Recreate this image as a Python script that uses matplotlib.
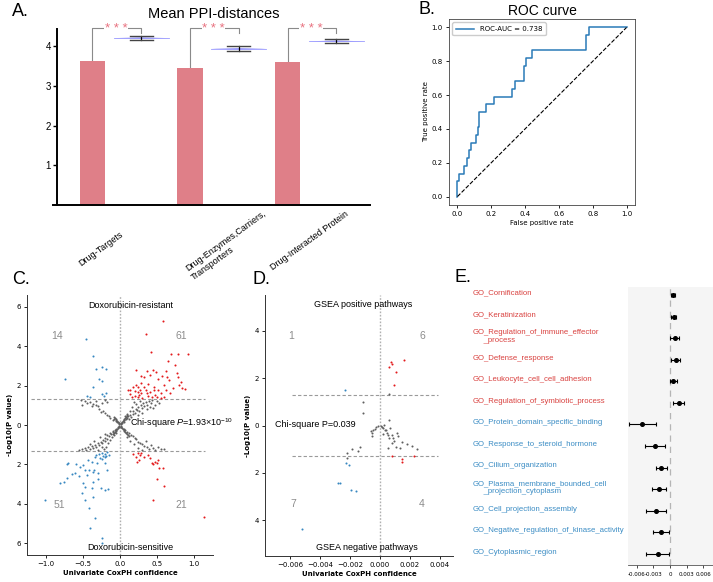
import numpy as np
import matplotlib
matplotlib.use('Agg')
import matplotlib.pyplot as plt
from matplotlib.ticker import FuncFormatter
from matplotlib.transforms import blended_transform_factory

plt.rcParams['font.family'] = ['DejaVu Sans']
plt.rcParams['mathtext.fontset'] = 'custom'
plt.rcParams['mathtext.rm'] = 'Liberation Sans'
plt.rcParams['mathtext.it'] = 'Liberation Sans:italic'
ARIAL = 'Liberation Sans'

# ---------------- data ----------------
# Panel A
a_categories = ['Drug-Targets', 'Drug-Enzymes,Carriers,\nTransporters', 'Drug-Interacted Protein']
a_observed = [3.63, 3.44, 3.59]
a_random_mean = [4.20, 3.93, 4.12]
a_random_lo = [4.15, 3.88, 4.07]
a_random_hi = [4.25, 3.99, 4.17]
a_sig = ['* * *', '* * *', '* * *']

# Panel B (ROC curve corners)
b_fpr = [0.0, 0.0, 0.012, 0.012, 0.04, 0.04, 0.055, 0.055, 0.07, 0.07, 0.083, 0.083,
         0.11, 0.11, 0.12, 0.12, 0.127, 0.127, 0.17, 0.17, 0.216, 0.216, 0.32, 0.32,
         0.34, 0.34, 0.395, 0.395, 0.405, 0.405, 0.44, 0.44, 0.762, 0.762, 0.78, 0.78, 1.0]
b_tpr = [0.0, 0.091, 0.091, 0.136, 0.136, 0.182, 0.182, 0.227, 0.227, 0.273, 0.273, 0.318,
         0.318, 0.364, 0.364, 0.409, 0.409, 0.5, 0.5, 0.545, 0.545, 0.591, 0.591, 0.636,
         0.636, 0.682, 0.682, 0.773, 0.773, 0.818, 0.818, 0.864, 0.864, 0.955, 0.955, 1.0, 1.0]
b_auc = 0.738

# Panel C (x = CoxPH confidence, y = signed -log10 P)
c_red_up = [(0.577, 5.28), (0.347, 4.6), (0.42, 3.72), (0.685, 3.59), (0.79, 3.59), (0.915, 3.59),
            (0.65, 3.25), (0.74, 3.05), (0.21, 2.79), (0.37, 2.74), (0.45, 2.79), (0.49, 2.71),
            (0.62, 2.74), (0.77, 2.62), (0.28, 2.5), (0.33, 2.43), (0.41, 2.55), (0.51, 2.33),
            (0.57, 2.5), (0.64, 2.43), (0.66, 2.3), (0.79, 2.43), (0.82, 2.2), (0.14, 1.8),
            (0.18, 1.95), (0.21, 2.02), (0.25, 1.95), (0.29, 2.11), (0.32, 1.95), (0.38, 2.06),
            (0.46, 1.95), (0.59, 2.02), (0.80, 2.02), (0.84, 1.9), (0.11, 1.78), (0.2, 1.75),
            (0.24, 1.68), (0.27, 1.78), (0.29, 1.6), (0.35, 1.78), (0.41, 1.68), (0.46, 1.78),
            (0.52, 1.78), (0.56, 1.6), (0.6, 1.44), (0.62, 1.78), (0.2, 1.48), (0.24, 1.42),
            (0.38, 1.48), (0.47, 1.52), (0.5, 1.42), (0.14, 1.55), (0.72, 1.9), (0.68, 1.62),
            (0.3, 1.38), (0.43, 1.4), (0.55, 1.35), (0.16, 1.4), (0.26, 1.52), (0.36, 1.62),
            (0.88, 1.85)]
c_red_down = [(0.18, -1.45), (0.21, -1.62), (0.23, -1.86), (0.24, -1.4), (0.26, -1.78),
              (0.27, -1.5), (0.29, -1.44), (0.33, -1.6), (0.38, -1.52), (0.43, -1.92),
              (0.45, -1.97), (0.47, -1.86), (0.5, -1.91), (0.52, -1.78), (0.53, -2.19),
              (0.58, -2.17), (0.5, -2.76), (0.59, -3.08), (0.45, -3.81), (1.14, -4.65),
              (0.4, -1.7)]
c_blue_up = [(-0.46, 4.35), (-0.365, 3.5), (-0.325, 2.86), (-0.24, 2.96), (-0.19, 2.86),
             (-0.28, 2.35), (-0.24, 2.25), (-0.75, 2.32), (-0.37, 1.91), (-0.25, 1.57),
             (-0.19, 1.6), (-0.45, 1.47), (-0.405, 1.4), (-0.22, 1.45)]
c_blue_down = [(-0.248, -1.44), (-0.203, -1.49), (-0.172, -1.39), (-0.226, -1.57), (-0.27, -1.66),
               (-0.338, -1.61), (-0.306, -1.95), (-0.203, -1.95), (-0.18, -2.28), (-0.428, -1.78),
               (-0.383, -1.86), (-0.495, -2.03), (-0.54, -2.12), (-0.473, -2.28), (-0.36, -2.37),
               (-0.293, -2.45), (-0.608, -2.45), (-0.698, -1.91), (-0.72, -1.98), (-0.765, -2.88),
               (-0.495, -2.96), (-0.473, -3.13), (-0.36, -2.88), (-0.383, -3.22), (-0.257, -3.22),
               (-0.203, -3.3), (-0.158, -3.27), (-0.518, -3.47), (-0.36, -3.67), (-0.473, -3.81),
               (-1.01, -3.81), (-0.414, -4.23), (-0.338, -4.74), (-0.405, -5.25), (-0.248, -5.75),
               (-0.24, -6.0), (-0.81, -2.95), (-0.65, -2.5), (-0.55, -2.6), (-0.6, -2.0),
               (-0.72, -2.7), (-0.35, -2.3), (-0.3, -2.75), (-0.25, -1.75), (-0.28, -1.45),
               (-0.15, -1.5), (-0.2, -1.62), (-0.32, -1.5), (-0.42, -2.3), (-0.45, -2.55),
               (-0.19, -1.55)]
c_gray = [
    # main band, upper right
    (0.03, 0.1), (0.05, 0.15), (0.06, 0.25), (0.08, 0.3), (0.1, 0.35), (0.12, 0.3), (0.11, 0.45),
    (0.14, 0.5), (0.15, 0.4), (0.17, 0.55), (0.18, 0.7), (0.2, 0.6), (0.21, 0.8), (0.23, 0.75),
    (0.25, 0.9), (0.26, 0.7), (0.28, 1.0), (0.3, 0.85), (0.31, 1.1), (0.33, 0.95), (0.35, 1.15),
    (0.37, 1.0), (0.39, 1.2), (0.42, 1.1), (0.44, 1.25), (0.47, 1.0), (0.5, 1.2), (0.53, 1.1),
    (0.22, 1.05), (0.16, 0.9), (0.13, 0.7), (0.27, 1.2), (0.36, 0.8), (0.4, 0.9), (0.45, 0.85),
    (0.07, 0.45), (0.09, 0.55), (0.19, 1.15), (0.24, 0.5), (0.3, 0.6),
    # main band, lower left
    (-0.03, -0.1), (-0.05, -0.2), (-0.07, -0.25), (-0.09, -0.35), (-0.1, -0.3), (-0.12, -0.45),
    (-0.14, -0.4), (-0.15, -0.55), (-0.17, -0.5), (-0.18, -0.7), (-0.2, -0.65), (-0.21, -0.8),
    (-0.23, -0.75), (-0.25, -0.9), (-0.26, -0.85), (-0.28, -1.0), (-0.3, -0.9), (-0.32, -1.1),
    (-0.34, -1.0), (-0.36, -1.15), (-0.38, -1.05), (-0.4, -1.2), (-0.43, -1.1), (-0.46, -1.25),
    (-0.48, -1.15), (-0.52, -1.2), (-0.55, -1.25), (-0.16, -0.9), (-0.19, -1.1), (-0.22, -1.2),
    (-0.24, -1.1), (-0.11, -0.6), (-0.13, -0.75), (-0.27, -0.6), (-0.35, -0.8), (-0.08, -0.5),
    (-0.41, -0.95), (-0.3, -1.25), (-0.2, -0.45), (-0.06, -0.4),
    # anti-diagonal, upper left
    (-0.02, 0.1), (-0.04, 0.15), (-0.06, 0.2), (-0.08, 0.3), (-0.1, 0.25), (-0.13, 0.35),
    (-0.15, 0.45), (-0.18, 0.5), (-0.2, 0.6), (-0.23, 0.7), (-0.26, 0.65), (-0.28, 0.8),
    (-0.3, 0.95), (-0.33, 1.0), (-0.36, 1.05), (-0.38, 0.95), (-0.41, 1.15), (-0.45, 1.1),
    (-0.48, 1.2), (-0.51, 1.0), (-0.53, 1.25), (-0.25, 1.1), (-0.21, 1.25), (-0.17, 1.15),
    (-0.32, 1.2),
    # anti-diagonal, lower right
    (0.02, -0.1), (0.05, -0.2), (0.07, -0.25), (0.1, -0.35), (0.12, -0.4), (0.15, -0.5),
    (0.17, -0.55), (0.2, -0.65), (0.22, -0.7), (0.24, -0.85), (0.27, -0.9), (0.3, -0.95),
    (0.33, -1.05), (0.36, -1.1), (0.39, -1.2), (0.42, -1.0), (0.45, -1.15), (0.48, -1.25),
    (0.52, -1.1), (0.55, -1.2), (0.6, -1.2), (0.3, -1.25), (0.25, -1.15), (0.19, -0.95),
    (0.14, -0.8), (0.1, -0.6), (0.35, -0.8),
    # dense centre cross
    (0.01, 0.05), (0.02, 0.1), (0.03, 0.15), (0.04, 0.2), (0.05, 0.25), (0.06, 0.3), (0.07, 0.35),
    (0.08, 0.4), (0.09, 0.45), (0.1, 0.5), (-0.01, -0.05), (-0.02, -0.1), (-0.03, -0.15),
    (-0.04, -0.2), (-0.05, -0.25), (-0.06, -0.3), (-0.07, -0.35), (-0.08, -0.4), (-0.09, -0.45),
    (-0.01, 0.05), (-0.02, 0.1), (-0.03, 0.15), (-0.04, 0.2), (-0.05, 0.25), (-0.06, 0.3),
    (-0.07, 0.35), (-0.08, 0.42), (0.01, -0.05), (0.02, -0.1), (0.03, -0.15), (0.04, -0.2),
    (0.05, -0.25), (0.06, -0.3), (0.07, -0.35), (0.08, -0.4), (0.09, -0.45), (0.11, -0.5),
    (0.12, -0.55)]
c_counts = {'UL': '14', 'UR': '61', 'LL': '51', 'LR': '21'}
c_chi = r'Chi-square $\mathit{P}$=1.93×10$^{-10}$'

# Panel D
d_red_up = [(0.00071, 2.66), (0.00062, 2.45), (0.0016, 2.75), (0.0011, 2.24), (0.00093, 1.69),
            (0.0008, 2.58)]
d_red_down = [(0.00078, -1.29), (0.00144, -1.43), (0.00149, -1.53), (0.00227, -1.29)]
d_blue_up = [(-0.00233, 1.51)]
d_blue_down = [(-0.00229, -1.6), (-0.00267, -2.41), (-0.00278, -2.44), (-0.00196, -2.73),
               (-0.0016, -2.76), (-0.00522, -4.37), (-0.0021, -1.65)]
d_gray = [(-0.00116, 0.98), (-0.00116, 0.53), (0.0006, 1.34), (0.0006, 0.25), (0.00007, 0.0),
          (-0.00011, -0.03), (-0.00027, -0.07), (-0.00044, -0.17), (-0.00056, -0.31),
          (-0.00056, -0.45), (-0.00033, -0.14), (0.00022, -0.1), (0.00033, -0.17),
          (0.00044, -0.31), (0.00056, -0.38), (0.0006, -0.52), (0.00078, -0.38), (0.00089, -0.52),
          (0.00111, -0.31), (0.00118, -0.45), (0.00078, -0.73), (0.00144, -0.7), (0.00178, -0.8),
          (0.00211, -0.87), (0.00244, -1.01), (0.00056, -0.94), (0.00107, -0.91),
          (-0.00133, -0.91), (-0.00189, -0.97), (-0.00144, -1.08), (-0.00218, -1.18),
          (-0.00222, -1.36), (0.00016, -0.06), (-0.0006, -0.24), (0.00027, 0.04),
          (0.00067, -0.1), (0.00096, -0.66), (0.00133, -0.94), (0.0004, -0.2), (0.0002, -0.35)]
d_counts = {'UL': '1', 'UR': '6', 'LL': '7', 'LR': '4'}
d_chi = 'Chi-square P=0.039'

# Panel E
e_terms = ['GO_Cornification', 'GO_Keratinization',
           'GO_Regulation_of_immune_effector\n     _process', 'GO_Defense_response',
           'GO_Leukocyte_cell_cell_adhesion', 'GO_Regulation_of_symbiotic_process',
           'GO_Protein_domain_specific_binding', 'GO_Response_to_steroid_hormone',
           'GO_Cilium_organization', 'GO_Plasma_membrane_bounded_cell\n     _projection_cytoplasm',
           'GO_Cell_projection_assembly', 'GO_Negative_regulation_of_kinase_activity',
           'GO_Cytoplasmic_region']
e_coef = [0.0005, 0.00067, 0.0009, 0.0011, 0.00055, 0.0016, -0.0051, -0.0027, -0.0016,
          -0.002, -0.0026, -0.0016, -0.0022]
e_lo = [0.0001, 0.00024, 0.0, 0.00024, 0.0, 0.0006, -0.0075, -0.0045, -0.0026, -0.0032,
        -0.0043, -0.003, -0.0043]
e_hi = [0.0009, 0.0011, 0.0017, 0.0019, 0.0012, 0.0026, -0.0026, -0.00085, -0.0006, -0.0007,
        -0.0008, -0.0002, -0.0001]
e_direction = ['pos'] * 6 + ['neg'] * 7

# ---------------- figure ----------------
W, H = 713, 582
fig = plt.figure(figsize=(W / 100, H / 100), dpi=100)


def add_ax(l, t, r, b):
    return fig.add_axes([l / W, 1 - b / H, (r - l) / W, (b - t) / H])


RED = '#e31a1c'
BLUE = '#3787c0'
GRAY = '#5f5f5f'

# ---------- Panel A ----------
axA = add_ax(57, 29, 370, 205)
xa = np.arange(len(a_categories))
axA.bar(xa, a_observed, width=0.26, color='#df7f88', zorder=2)
for i in range(len(xa)):
    c = xa[i] + 0.5
    m = a_random_mean[i]
    axA.fill([c - 0.28, c, c + 0.28, c], [m, m + 0.02, m, m - 0.02],
             color='#6f6ff5', alpha=0.75, lw=0, zorder=2)
    axA.plot([c - 0.28, c + 0.28], [m, m], color='#9a9aff', lw=0.6, zorder=2)
    axA.plot([c, c], [a_random_lo[i], a_random_hi[i]], color='k', lw=0.9, zorder=3)
    for v in (a_random_lo[i], a_random_hi[i]):
        axA.plot([c - 0.12, c + 0.12], [v, v], color='#444', lw=1.0, zorder=3)
    axA.plot([xa[i], xa[i], c, c], [a_observed[i], 4.45, 4.45, 4.33],
             color='#8a8a8a', lw=0.8, clip_on=False, zorder=1)
    axA.text(xa[i] + 0.24, 4.43, a_sig[i], ha='center', va='center', color='#e8707e',
             fontsize=9.5, family=ARIAL,
             bbox=dict(facecolor='white', edgecolor='none', pad=0.3), zorder=4)
axA.set_xlim(-0.364, 2.846)
axA.set_ylim(0, 4.43)
axA.set_xticks([])
axA.set_yticks([1, 2, 3, 4])
axA.set_yticklabels(['1', '2', '3', '4'], fontsize=7, family=ARIAL)
axA.tick_params(axis='y', length=3, width=1.0, pad=1.5)
for s in ('top', 'right'):
    axA.spines[s].set_visible(False)
axA.spines['left'].set_linewidth(1.4)
axA.spines['bottom'].set_linewidth(1.4)
axA.spines['bottom'].set_bounds(-0.41, 2.846)
axA.set_title('Mean PPI-distances', fontsize=10.5, family=ARIAL, pad=8)
a_label_xy = [(0.28, -0.62), (1.74, -0.10), (2.59, -0.12)]
for (lx, ly), lab in zip(a_label_xy, a_categories):
    axA.text(lx, ly, lab, rotation=36, rotation_mode='anchor', ha='right', va='top',
             multialignment='left', fontsize=6.5, family=ARIAL, clip_on=False)

# ---------- Panel B ----------
axB = add_ax(449, 19, 635, 205)
axB.plot(b_fpr, b_tpr, color='#2a7ab8', lw=1.1, label=f'ROC-AUC = {b_auc:.3f}')
axB.plot([0, 1], [0, 1], 'k--', lw=0.8)
axB.set_xlim(-0.05, 1.05)
axB.set_ylim(-0.05, 1.05)
ticksB = [0.0, 0.2, 0.4, 0.6, 0.8, 1.0]
axB.set_xticks(ticksB)
axB.set_yticks(ticksB)
axB.tick_params(labelsize=5, length=2.5, width=0.6, pad=2)
axB.set_xlabel('False positive rate', fontsize=5, labelpad=2)
axB.set_ylabel('True positive rate', fontsize=5, labelpad=2)
for s in axB.spines.values():
    s.set_linewidth(0.6)
    s.set_color('#444')
axB.legend(loc='upper left', fontsize=5, handlelength=2.6, borderpad=0.5,
           framealpha=1, edgecolor='#ccc', fancybox=True)
axB.set_title('ROC curve', fontsize=10, family=ARIAL, pad=3)


def volcano(ax, gray, red_up, red_down, blue_up, blue_down):
    for pts, col in ((gray, GRAY), (red_up, RED), (red_down, RED),
                     (blue_up, BLUE), (blue_down, BLUE)):
        xs = [p[0] for p in pts]
        ys = [p[1] for p in pts]
        ax.scatter(xs, ys, s=2.2, color=col, lw=0, zorder=3)
    for s in ('top', 'right'):
        ax.spines[s].set_visible(False)
    for s in ('left', 'bottom'):
        ax.spines[s].set_linewidth(0.7)
        ax.spines[s].set_color('#333')
    ax.tick_params(labelsize=5, length=2.5, width=0.6, pad=2)
    ax.yaxis.set_major_formatter(FuncFormatter(lambda v, p: f'{abs(v):.0f}'))
    ax.set_xlabel('Univariate CoxPH confidence', fontsize=5, fontweight='bold', labelpad=2)
    ax.set_ylabel('-Log10(P value)', fontsize=5, fontweight='bold', labelpad=2)


# ---------- Panel C ----------
axC = add_ax(27, 295, 213, 555)
axC.hlines([1.3, -1.3], -1.2, 1.15, colors='#9a9a9a', linestyles=(0, (3, 2)), lw=0.8, zorder=1)
axC.axvline(0, color='#b0b0b0', ls=(0, (1.2, 1.2)), lw=1.0, zorder=1)
volcano(axC, c_gray, c_red_up, c_red_down, c_blue_up, c_blue_down)
axC.set_xlim(-1.26, 1.26)
axC.set_ylim(-6.6, 6.6)
axC.set_xticks([-1.0, -0.5, 0.0, 0.5, 1.0])
axC.set_yticks([-6, -4, -2, 0, 2, 4, 6])
tkw = dict(family=ARIAL, ha='center', va='center')
axC.text(0.15, 6.05, 'Doxorubicin-resistant', fontsize=6.5, **tkw)
axC.text(0.14, -6.22, 'Doxorubicin-sensitive', fontsize=6.5, **tkw)
axC.text(-0.855, 4.5, c_counts['UL'], fontsize=7.5, color='#8c8c8c', **tkw)
axC.text(0.83, 4.5, c_counts['UR'], fontsize=7.5, color='#8c8c8c', **tkw)
axC.text(-0.82, -4.06, c_counts['LL'], fontsize=7.5, color='#8c8c8c', **tkw)
axC.text(0.83, -4.06, c_counts['LR'], fontsize=7.5, color='#8c8c8c', **tkw)
axC.text(0.14, 0.1, c_chi, fontsize=6.5, family=ARIAL, ha='left', va='center', zorder=5)

# ---------- Panel D ----------
axD = add_ax(265, 295, 453, 556)
axD.hlines([1.3, -1.3], -0.0059, 0.0039, colors='#9a9a9a', linestyles=(0, (3, 2)), lw=0.8, zorder=1)
axD.axvline(0, color='#b0b0b0', ls=(0, (1.2, 1.2)), lw=1.0, zorder=1)
volcano(axD, d_gray, d_red_up, d_red_down, d_blue_up, d_blue_down)
axD.set_xlim(-0.00767, 0.00487)
axD.set_ylim(-5.5, 5.5)
axD.set_xticks([-0.006, -0.004, -0.002, 0.0, 0.002, 0.004])
axD.xaxis.set_major_formatter(FuncFormatter(lambda v, p: f'{v:.3f}'.replace('-', '\u2212')))
axD.set_yticks([-4, -2, 0, 2, 4])
axD.text(-0.0011, 5.08, 'GSEA positive pathways', fontsize=6.5, **tkw)
axD.text(-0.0009, -5.14, 'GSEA negative pathways', fontsize=6.5, **tkw)
axD.text(-0.0059, 3.78, d_counts['UL'], fontsize=7.5, color='#8c8c8c', **tkw)
axD.text(0.0028, 3.78, d_counts['UR'], fontsize=7.5, color='#8c8c8c', **tkw)
axD.text(-0.0058, -3.32, d_counts['LL'], fontsize=7.5, color='#8c8c8c', **tkw)
axD.text(0.0028, -3.32, d_counts['LR'], fontsize=7.5, color='#8c8c8c', **tkw)
axD.text(-0.0070, 0.05, d_chi, fontsize=6.5, family=ARIAL, ha='left', va='center', zorder=5)

# ---------- Panel E ----------
axE = add_ax(628, 287, 713, 565)
axE.set_facecolor('#f5f5f5')
n = len(e_terms)
ye = np.arange(n)[::-1]
coef = np.array(e_coef)
xerr = np.vstack([coef - np.array(e_lo), np.array(e_hi) - coef])
axE.axvline(0, color='#b5b5b5', ls=(0, (5, 4)), lw=0.9, zorder=1)
axE.errorbar(coef, ye, xerr=xerr, fmt='o', color='k', ms=2.6, elinewidth=0.8,
             capsize=1.6, capthick=0.8, zorder=3)
axE.set_xlim(-0.0076, 0.0078)
axE.set_ylim(-0.51, 12.37)
axE.set_yticks([])
axE.set_xticks([-0.006, -0.003, 0, 0.003, 0.006])
axE.set_xticklabels(['-0.006', '-0.003', '0', '0.003', '0.006'])
axE.tick_params(axis='x', labelsize=4, length=2, width=0.5, pad=3)
for s in ('top', 'right', 'left'):
    axE.spines[s].set_visible(False)
axE.spines['bottom'].set_linewidth(0.6)
axE.spines['bottom'].set_color('#555')
trE = blended_transform_factory(fig.transFigure, axE.transData)
for yy, term, d in zip(ye, e_terms, e_direction):
    axE.text(473 / W, yy + 0.08, term, transform=trE, ha='left', va='center',
             fontsize=5.6, family=ARIAL, color='#d9413f' if d == 'pos' else '#3a8cc4',
             linespacing=1.1, clip_on=False)

# ---------- panel letters ----------
for lab, (px, py) in {'A.': (12, 11), 'B.': (418, 10), 'C.': (12, 279),
                      'D.': (252, 279), 'E.': (455, 277)}.items():
    fig.text(px / W, 1 - py / H, lab, fontsize=13, family=ARIAL, ha='left', va='center')

fig.savefig('out.png', dpi=100)
